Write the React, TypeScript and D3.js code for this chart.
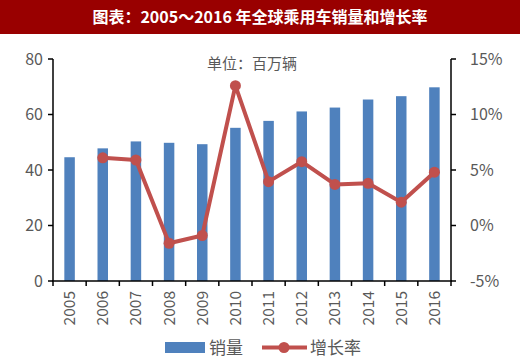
import React from "react";
import * as d3 from "d3";

const years = ["2005","2006","2007","2008","2009","2010","2011","2012","2013","2014","2015","2016"];
const sales = [44.6, 47.8, 50.3, 49.8, 49.3, 55.2, 57.7, 61.1, 62.5, 65.4, 66.6, 69.8];
const growth = [null, 6.1, 5.9, -1.6, -0.9, 12.6, 3.95, 5.75, 3.7, 3.8, 2.1, 4.8];
const leftTicks = [0, 20, 40, 60, 80];
const rightTicks = [-5, 0, 5, 10, 15];

const W = 520, H = 361;
const M = { left: 53, right: 451, top: 59, bottom: 281 };
const gray = "#595959";
const blue = "#4F81BD";
const red = "#C0504D";
const font = "'Noto Sans CJK SC', 'Open Sans', sans-serif";

export default function App() {
  const x = d3.scaleBand<string>().domain(years).range([M.left, M.right]).paddingInner(0).paddingOuter(0);
  const yL = d3.scaleLinear().domain([0, 80]).range([M.bottom, M.top]);
  const yR = d3.scaleLinear().domain([-5, 15]).range([M.bottom, M.top]);
  const bw = 10.5;
  const pts = years.map((yr, i) => ({ yr, v: growth[i] })).filter(d => d.v !== null) as { yr: string; v: number }[];
  const line = d3.line<{ yr: string; v: number }>()
    .x(d => (x(d.yr) as number) + x.bandwidth() / 2)
    .y(d => yR(d.v));
  const boundaries = years.map(y => x(y) as number).concat([M.right]);

  return (
    <svg width={W} height={H} style={{ position: "absolute", left: 0, top: 0, background: "#fff" }} fontFamily={font}>
      <rect x={0} y={0} width={W} height={34} fill="#990000" />
      <text x={260} y={23} textAnchor="middle" fill="#fff" fontSize={16} fontWeight="bold">图表：2005～2016 年全球乘用车销量和增长率</text>

      <text x={252} y={69} textAnchor="middle" fill={gray} fontSize={15}>单位：百万辆</text>

      {years.map((yr, i) => (
        <rect key={yr} x={(x(yr) as number) + x.bandwidth() / 2 - bw / 2} y={yL(sales[i])} width={bw} height={M.bottom - yL(sales[i])} fill={blue} />
      ))}

      {/* left axis */}
      <line x1={M.left} x2={M.left} y1={M.top} y2={M.bottom} stroke="#000" strokeWidth={1.5} />
      {leftTicks.map(t => (
        <g key={t}>
          <line x1={M.left - 5} x2={M.left} y1={yL(t)} y2={yL(t)} stroke="#000" strokeWidth={1.5} />
          <text x={M.left - 10} y={yL(t)} dy="0.35em" textAnchor="end" fill={gray} fontSize={16}>{t}</text>
        </g>
      ))}
      {/* right axis */}
      <line x1={M.right} x2={M.right} y1={M.top} y2={M.bottom} stroke="#000" strokeWidth={1.5} />
      {rightTicks.map(t => (
        <g key={t}>
          <line x1={M.right} x2={M.right + 5} y1={yR(t)} y2={yR(t)} stroke="#000" strokeWidth={1.5} />
          <text x={M.right + 19} y={yR(t)} dy="0.35em" textAnchor="start" fill={gray} fontSize={16}>{t}%</text>
        </g>
      ))}
      {/* x axis */}
      <line x1={M.left - 1} x2={M.right + 1} y1={M.bottom} y2={M.bottom} stroke="#000" strokeWidth={1.5} />
      {boundaries.map((b, i) => (
        <line key={i} x1={b} x2={b} y1={M.bottom} y2={M.bottom + 5} stroke="#000" strokeWidth={1.5} />
      ))}
      {years.map(yr => {
        const cx = (x(yr) as number) + x.bandwidth() / 2;
        return (
          <text key={yr} transform={`translate(${cx + 5.5},${M.bottom + 10}) rotate(-90)`} textAnchor="end" fill={gray} fontSize={15.5}>{yr}</text>
        );
      })}

      <path d={line(pts) || ""} fill="none" stroke={red} strokeWidth={4} strokeLinejoin="round" />
      {pts.map(d => (
        <circle key={d.yr} cx={(x(d.yr) as number) + x.bandwidth() / 2} cy={yR(d.v)} r={5.5} fill={red} />
      ))}

      {/* legend */}
      <rect x={165} y={342} width={40} height={11} fill={blue} />
      <text x={209} y={354} fill={gray} fontSize={17}>销量</text>
      <line x1={262} x2={307} y1={347.5} y2={347.5} stroke={red} strokeWidth={4} />
      <circle cx={284} cy={347.5} r={5.5} fill={red} />
      <text x={310} y={354} fill={gray} fontSize={17}>增长率</text>
    </svg>
  );
}
